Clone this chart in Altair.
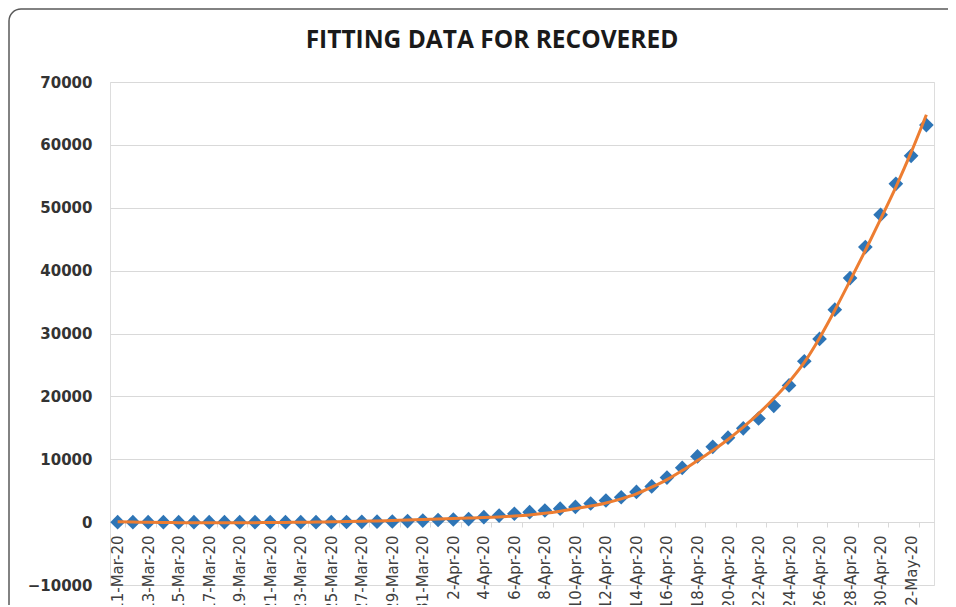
import altair as alt
import math
import pandas as pd

# Category labels: 11-Mar-20 .. 3-May-20 (daily)
dates = [f"{d.day}-{d.strftime('%b')}-20" for d in pd.date_range("2020-03-11", "2020-05-03")]

recovered = [0, 0, 0, 0, 0, 0, 0, 0, 0, 0,
             0, 0, 0, 0, 0, 26, 42, 70, 105, 162,
             243, 333, 415, 484, 786, 1042, 1326, 1582, 1846, 2142,
             2423, 2965, 3446, 3957, 4799, 5674, 7089, 8631, 10453, 11976,
             13430, 14918, 16477, 18491, 21737, 25582, 29140, 33791, 38809, 43747,
             48886, 53808, 58259, 63151]

fitted = [60, 10, -30, -60, -80, -95, -100, -100, -95, -85,
          -70, -50, -25, 5, 40, 85, 135, 195, 260, 330,
          405, 480, 560, 640, 720, 830, 970, 1150, 1400, 1740,
          2150, 2560, 3050, 3700, 4500, 5550, 6750, 8200, 9800, 11400,
          13150, 15100, 17250, 19650, 22300, 25400, 29300, 33700, 38400, 43200,
          48200, 53300, 58800, 64800]

y_ticks = list(range(-10000, 70001, 10000))

df = pd.DataFrame({"date": dates, "recovered": recovered, "fit": fitted})

W, H = 824, 503
PAD = {"left": 102, "top": 74, "right": 14, "bottom": 20}

x_enc = alt.X(
    "date:O",
    sort=dates,
    scale=alt.Scale(type="band", paddingInner=0, paddingOuter=0),
    axis=alt.Axis(
        values=dates[::2],
        tickBand="extent",
        labelAngle=-90,
        offset=-63,
        grid=False,
        domainColor="#D9D9D9",
        domainWidth=1,
        tickColor="#D9D9D9",
        tickSize=5,
        labelPadding=8,
        labelFont="DejaVu Sans",
        labelFontSize=15,
        labelColor="#404040",
        title=None,
    ),
)

y_scale = alt.Scale(domain=[-10000, 70000], nice=False, zero=False)

base = alt.Chart(df)

points = base.mark_point(shape="diamond", filled=True, size=215, opacity=1, color="#2E75B6").encode(
    x=x_enc,
    y=alt.Y(
        "recovered:Q",
        scale=y_scale,
        axis=alt.Axis(
            values=y_ticks,
            format="d",
            grid=True,
            gridColor="#D9D9D9",
            gridWidth=1,
            domain=False,
            ticks=False,
            labelPadding=18,
            labelFont="DejaVu Sans",
            labelFontWeight="bold",
            labelFontSize=15,
            labelColor="#333333",
            title=None,
        ),
    ),
)

line = base.mark_line(color="#ED7D31", strokeWidth=3, interpolate="monotone").encode(
    x=alt.X("date:O", sort=dates),
    y=alt.Y("fit:Q", scale=y_scale),
)

# chart-area frame (top and left edges with a rounded corner) as thin filled bars
one = alt.Data(values=[{"k": 1}])
BX, BY, R = -101, -73, 12
frame_col = "#595959"
right_end = W + PAD["right"]
bottom_end = H + PAD["bottom"]
top_edge = alt.Chart(one).mark_rect(color=frame_col, strokeWidth=0).encode(
    x=alt.value(BX + R), x2=alt.value(right_end),
    y=alt.value(BY - 0.75), y2=alt.value(BY + 0.75),
)
left_edge = alt.Chart(one).mark_rect(color=frame_col, strokeWidth=0).encode(
    x=alt.value(BX - 0.75), x2=alt.value(BX + 0.75),
    y=alt.value(BY + R), y2=alt.value(bottom_end),
)
corner = alt.Chart(one).mark_arc(color=frame_col).encode(
    x=alt.value(BX + R), y=alt.value(BY + R),
    radius=alt.value(R + 0.75), radius2=alt.value(R - 0.75),
    theta=alt.value(1.5 * math.pi), theta2=alt.value(2 * math.pi),
)

chart = alt.layer(top_edge, left_edge, corner, points, line).properties(
    width=W,
    height=H,
    autosize=alt.AutoSizeParams(type="none"),
    padding=PAD,
    title=alt.TitleParams(
        "FITTING DATA FOR RECOVERED",
        font="Open Sans",
        fontSize=24.5,
        fontWeight="bold",
        color="#1a1a1a",
        anchor="middle",
        frame="group",
        baseline="alphabetic",
        dx=-30,
        dy=64,
        offset=0,
    ),
).configure_view(strokeWidth=0).configure(background="white")

chart.save("out.html", embed_options={"renderer": "svg", "actions": False})
